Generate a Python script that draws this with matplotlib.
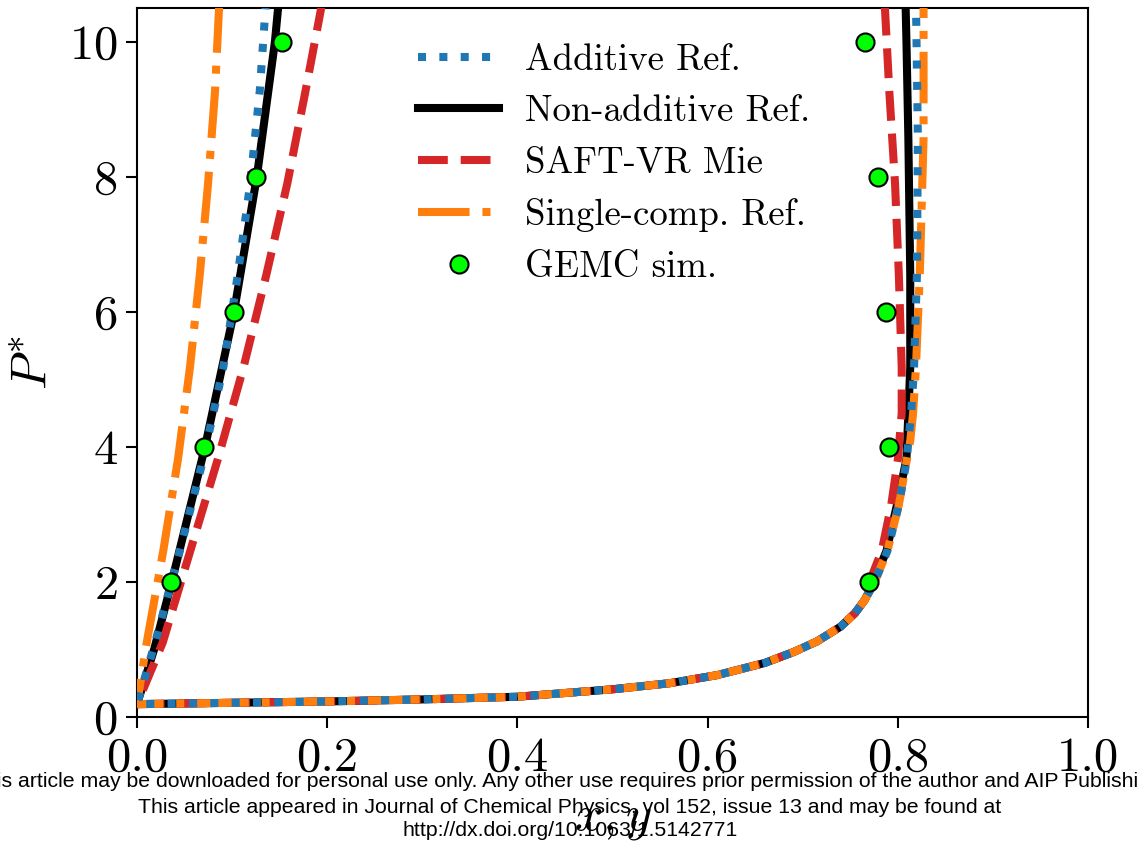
import matplotlib
matplotlib.use("Agg")
import matplotlib.pyplot as plt

plt.rcParams['font.family'] = 'serif'
plt.rcParams['font.serif'] = ['cmr10']
plt.rcParams['mathtext.fontset'] = 'cm'
plt.rcParams['axes.formatter.use_mathtext'] = True

# liquid branch shared by every model up to x ~ 0.765
x_liq_common = [0.0, 0.1, 0.2, 0.3, 0.4, 0.5, 0.56, 0.61, 0.66, 0.69, 0.715, 0.74, 0.755, 0.765]
p_liq_common = [0.19, 0.21, 0.23, 0.26, 0.30, 0.41, 0.50, 0.62, 0.80, 0.96, 1.12, 1.34, 1.54, 1.73]

# additive reference
add_vap_x = [0.1356, 0.129, 0.119, 0.106, 0.0907, 0.0697, 0.045, 0.019, 0.0]
add_vap_p = [10.6, 9.26, 7.9, 6.55, 5.18, 3.82, 2.46, 1.1, 0.19]
add_liq_x = [0.775, 0.789, 0.801, 0.8095, 0.811, 0.814, 0.817, 0.820, 0.821, 0.819]
add_liq_p = [1.98, 2.46, 3.14, 3.82, 4.09, 4.5, 5.18, 6.54, 8.58, 10.6]

# non-additive reference
nadd_vap_x = [0.149, 0.145, 0.126, 0.102, 0.0715, 0.0365, 0.018, 0.0]
nadd_vap_p = [10.6, 10.0, 8.0, 6.0, 4.0, 2.0, 1.0, 0.19]
nadd_liq_x = [0.774, 0.788, 0.799, 0.809, 0.811, 0.813, 0.813, 0.811, 0.809, 0.808]
nadd_liq_p = [1.98, 2.46, 3.14, 3.82, 4.5, 5.18, 6.54, 8.58, 10.0, 10.6]

# SAFT-VR Mie
saft_vap_x = [0.195, 0.177, 0.158, 0.136, 0.112, 0.085, 0.056, 0.027, 0.0]
saft_vap_p = [10.6, 9.26, 7.9, 6.55, 5.18, 3.82, 2.46, 1.1, 0.19]
saft_liq_x = [0.764, 0.783, 0.793, 0.800, 0.804, 0.804, 0.801, 0.797, 0.791, 0.786]
saft_liq_p = [1.78, 2.46, 3.14, 3.82, 4.5, 5.18, 6.55, 7.9, 9.26, 10.6]

# single-component reference
single_vap_x = [0.0866, 0.082, 0.0747, 0.066, 0.0557, 0.0431, 0.0276, 0.0102, 0.0]
single_vap_p = [10.6, 9.26, 7.9, 6.55, 5.18, 3.82, 2.46, 1.1, 0.19]
single_liq_x = [0.775, 0.789, 0.801, 0.8095, 0.813, 0.816, 0.819, 0.823, 0.827, 0.827]
single_liq_p = [1.98, 2.46, 3.14, 3.82, 4.09, 4.5, 5.18, 6.54, 8.58, 10.6]

# GEMC simulations
gemc_vap_x = [0.0358, 0.0705, 0.102, 0.125, 0.1525]
gemc_liq_x = [0.770, 0.791, 0.7876, 0.779, 0.7655]
gemc_p = [2, 4, 6, 8, 10]


def envelope(vx, vp, lx, lp):
    return vx + x_liq_common[1:] + lx, vp + p_liq_common[1:] + lp


fig = plt.figure(figsize=(11.37, 8.44), dpi=100)
ax = fig.add_axes([0.1205, 0.1505, 0.8365, 0.84])

lw = 5.8
x, p = envelope(add_vap_x, add_vap_p, add_liq_x, add_liq_p)
ax.plot(x, p, ':', color='#1f77b4', lw=lw, zorder=5, label='Additive Ref.')
x, p = envelope(nadd_vap_x, nadd_vap_p, nadd_liq_x, nadd_liq_p)
ax.plot(x, p, '-', color='k', lw=lw, zorder=2, label='Non-additive Ref.')
x, p = envelope(saft_vap_x, saft_vap_p, saft_liq_x, saft_liq_p)
ax.plot(x, p, '--', color='#d62728', lw=lw, zorder=3, label='SAFT-VR Mie')
x, p = envelope(single_vap_x, single_vap_p, single_liq_x, single_liq_p)
ax.plot(x, p, '-.', color='#ff7f0e', lw=lw, zorder=4, label='Single-comp. Ref.')
ax.plot(gemc_vap_x + gemc_liq_x, gemc_p + gemc_p, 'o', ls='none', ms=13,
        mfc='#00ff00', mec='k', mew=1.5, zorder=6, label='GEMC sim.')

ax.set_xlim(0, 1)
ax.set_ylim(0, 10.5)
ax.set_xticks([0, 0.2, 0.4, 0.6, 0.8, 1.0])
ax.set_xticklabels(['0.0', '0.2', '0.4', '0.6', '0.8', '1.0'])
ax.set_yticks([0, 2, 4, 6, 8, 10])
ax.tick_params(labelsize=35, length=8, width=1.5, pad=6)
for s in ax.spines.values():
    s.set_linewidth(1.5)

ax.set_xlabel('$x, y$', fontsize=36)
ax.xaxis.set_label_coords(0.5, -0.112)
ax.set_ylabel('$P^{*}$', fontsize=36)
ax.yaxis.set_label_coords(-0.085, 0.5)

ax.legend(loc='upper left', bbox_to_anchor=(0.2955, 0.950), frameon=False,
          fontsize=26.5, handlelength=2.2, handletextpad=0.7, labelspacing=0.5,
          borderpad=0, borderaxespad=0, numpoints=1)

notice = ['This article may be downloaded for personal use only. Any other use requires prior permission of the author and AIP Publishing.',
          'This article appeared in Journal of Chemical Physics, vol 152, issue 13 and may be found at',
          'http://dx.doi.org/10.1063/1.5142771']
for line, yy in zip(notice, [0.0675, 0.0367, 0.0095]):
    fig.text(0.501, yy, line, ha='center', va='baseline', fontsize=15.3,
             family='Liberation Sans', color='k')

fig.savefig('out.png', dpi=100)
